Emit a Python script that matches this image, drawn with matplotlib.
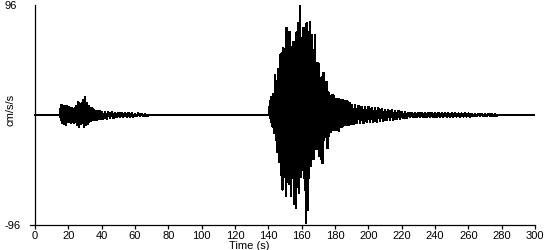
import numpy as np
import matplotlib
matplotlib.use("Agg")
import matplotlib.pyplot as plt

plt.rcParams["font.family"] = ["Liberation Sans", "DejaVu Sans"]

# -----------------------------
# data (peak / trough per time step, cm/s/s)
# -----------------------------
ev1_t = list(range(15, 41)) + list(range(42, 69, 2))
ev1_up = [5, 9, 8, 7, 8, 7, 6, 6, 5, 6, 8, 11, 9, 10, 13, 16, 10, 8, 6, 6,
          5, 3, 3, 3, 3, 2.5,
          2.5, 2.3, 2.3, 2, 2, 2, 2, 2, 1.5, 1, 1.5, 1, 1, 0]
ev1_lo = [-4, -7, -8, -9, -6, -6, -7, -6, -7, -6, -9, -10, -8, -7, -10, -9, -8, -6, -5, -4,
          -4, -4, -4, -3, -3, -3,
          -3, -2.5, -2.5, -2, -1.5, -1.5, -1.5, -1.5, -1.5, -1, -1, -1, -1, 0]

ev2_t = list(range(140, 190)) + list(range(190, 279, 2))
ev2_up = [0, 12, 16, 18, 35, 30, 40, 52, 54, 58,
          56, 76, 72, 72, 59, 64, 60, 72, 80, 96,
          67, 76, 74, 80, 72, 81, 70, 57, 70, 45,
          45, 30, 33, 37, 20, 29, 20, 16, 17, 17,
          14, 14, 14, 13, 13, 13, 12, 12, 11, 10,
          9, 9, 8, 7, 7, 7, 6, 6, 6, 5,
          4.5, 4, 4, 3.5, 3.5, 2.5, 2.5, 2, 2, 2,
          2, 2, 2, 2, 1.8, 1.8, 1.8, 1.5, 1.5, 1.5,
          1.5, 1.5, 1.3, 1.3, 1.3, 1.3, 1, 1, 1, 1,
          1, 1, 0.8, 0.8, 0]
ev2_lo = [0, -6, -10, -16, -22, -32, -41, -52, -65, -54,
          -71, -58, -60, -71, -55, -78, -81, -63, -68, -54,
          -48, -55, -94, -83, -55, -44, -38, -38, -30, -30,
          -36, -38, -42, -22, -19, -29, -18, -15, -13, -13,
          -13, -13, -14, -10, -10, -9, -9, -9, -9, -8,
          -8, -7, -7, -7, -6, -6, -6, -6, -5, -5,
          -4.5, -4, -4, -3.5, -3.5, -2.5, -2.5, -2, -2, -2,
          -2, -2, -2, -1.8, -1.8, -1.8, -1.8, -1.5, -1.5, -1.5,
          -1.5, -1.3, -1.3, -1.3, -1.3, -1.3, -1, -1, -1, -1,
          -1, -1, -0.8, -0.8, 0]

t_start, t_end = 0, 300
x_ticks = list(range(0, 301, 20))
y_lim = 96


def zigzag(t, up, lo):
    # peak at each time, trough halfway to the next one
    t = np.asarray(t, float)
    nxt = np.append(t[1:], t[-1] + 1)
    mid = (t + nxt) / 2
    tt = np.column_stack([t, mid]).ravel()
    yy = np.column_stack([up, lo]).ravel()
    return tt, yy


t1, y1 = zigzag(ev1_t, ev1_up, ev1_lo)
t2, y2 = zigzag(ev2_t, ev2_up, ev2_lo)
# quiet trace before, between and after the two arrivals
t_all = np.concatenate([[t_start, ev1_t[0]], t1, t2, [t_end]])
y_all = np.concatenate([[0, 0], y1, y2, [0]])

fig = plt.figure(figsize=(5.5, 2.5), dpi=100)
ax = fig.add_axes([30 / 550, 25 / 250, 505 / 550, 220 / 250])

ax.plot(t_all, y_all, color="black", lw=1.0, antialiased=False)

ax.set_xlim(-3, 300)
ax.set_ylim(-y_lim, y_lim)

ax.spines["top"].set_visible(False)
ax.spines["right"].set_visible(False)
ax.spines["left"].set_position(("data", 0))
for s in ("left", "bottom"):
    ax.spines[s].set_linewidth(0.9)

ax.set_xticks(x_ticks)
ax.tick_params(axis="x", length=3, width=0.9, pad=1.5, labelsize=8)
ax.set_yticks([-y_lim, y_lim])
ax.set_yticklabels([str(-y_lim), str(y_lim)])
ax.tick_params(axis="y", length=0, pad=21.6, labelsize=8)
for lab in ax.get_yticklabels():
    lab.set_horizontalalignment("left")

ax.set_ylabel("cm/s/s", fontsize=8)
ax.yaxis.set_label_coords(-0.029, 0.523)
ax.set_xlabel("Time (s)", fontsize=8)
ax.xaxis.set_label_coords(0.434, -0.074)

fig.savefig("out.png", dpi=100)
